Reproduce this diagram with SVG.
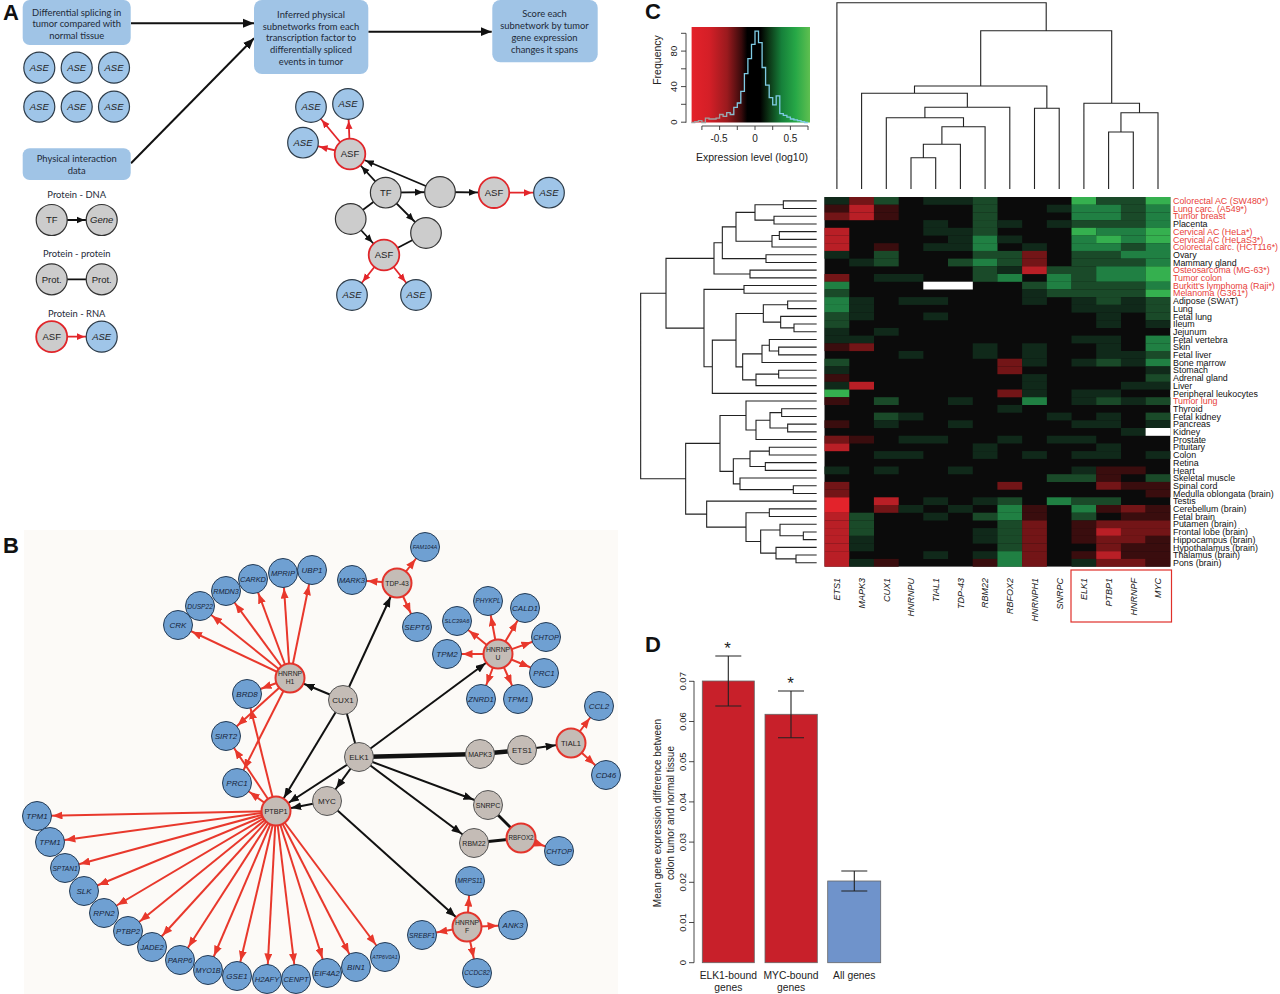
<svg xmlns="http://www.w3.org/2000/svg" width="1280" height="994" viewBox="0 0 1280 994">
<defs>
<style>
.pl{font-family:"Liberation Sans",Arial,sans-serif;font-weight:bold;font-size:22px;fill:#111}
.box{fill:#a0c4e6}
.bt{font-family:Lato,"Open Sans",sans-serif;font-size:9.4px;fill:#1e2a38;text-anchor:middle}
.aseA{fill:#9fc5e8;stroke:#2d3b48;stroke-width:1.2}
.grA{fill:#cccccc;stroke:#333;stroke-width:1.2}
.asfA{fill:#cccccc;stroke:#e0262a;stroke-width:1.8}
.ta{font-family:"Liberation Sans",Arial,sans-serif;font-size:9.5px;text-anchor:middle;fill:#222}
.it{font-style:italic}
.kA{stroke:#111;stroke-width:1.8;fill:none}
.rA{stroke:#e3262a;stroke-width:1.8;fill:none}
.nb{fill:#6fa0d2;stroke:#243b55;stroke-width:1}
.ng{fill:#c4bcb6;stroke:#555;stroke-width:1}
.nr{fill:#c4bcb6;stroke:#e3342c;stroke-width:2}
.tb{font-family:"Liberation Sans",Arial,sans-serif;font-style:italic;font-size:8px;text-anchor:middle;fill:#16243a}
.tg{font-family:"Liberation Sans",Arial,sans-serif;font-size:8px;text-anchor:middle;fill:#222}
.kB{stroke:#111;stroke-width:2;fill:none}
.rB{stroke:#e8382c;stroke-width:2;fill:none}
.a{fill:#e3232b}.b{fill:#b91f26}.c{fill:#731517}.d{fill:#3a0d0e}.e{fill:#10291a}.f{fill:#1a4a29}.g{fill:#208043}.h{fill:#35b04f}.w{fill:#ffffff}
.rl{font-family:"Liberation Sans",Arial,sans-serif;font-size:8.9px;fill:#111}
.rr{fill:#e8413a}
.cl{font-family:"Liberation Sans",Arial,sans-serif;font-style:italic;font-size:9px;fill:#222;text-anchor:end}
.ax{font-family:"Liberation Sans",Arial,sans-serif;font-size:9.5px;fill:#222;text-anchor:middle}
.dn{stroke:#222;stroke-width:1.1;fill:none}
</style>
<marker id="aBig" markerUnits="userSpaceOnUse" markerWidth="12" markerHeight="10" refX="11" refY="5" orient="auto"><path d="M0,0.5 L11,5 L0,9.5 Z" fill="#111"/></marker>
<marker id="aKA" markerUnits="userSpaceOnUse" markerWidth="26" markerHeight="8" refX="25" refY="4" orient="auto"><path d="M0,0.5 L8,4 L0,7.5 Z" fill="#111"/></marker>
<marker id="aRA" markerUnits="userSpaceOnUse" markerWidth="26" markerHeight="8" refX="25" refY="4" orient="auto"><path d="M0,0.5 L8,4 L0,7.5 Z" fill="#e3262a"/></marker>
<marker id="aKB" markerUnits="userSpaceOnUse" markerWidth="26" markerHeight="8" refX="25.5" refY="4" orient="auto"><path d="M0,0 L10,4 L0,8 Z" fill="#111"/></marker>
<marker id="aRB" markerUnits="userSpaceOnUse" markerWidth="26" markerHeight="8" refX="25.5" refY="4" orient="auto"><path d="M0,0 L10,4 L0,8 Z" fill="#e8382c"/></marker>
<linearGradient id="hg" x1="0" y1="0" x2="1" y2="0">
<stop offset="0" stop-color="#e4222a"/><stop offset="0.15" stop-color="#d41f27"/><stop offset="0.3" stop-color="#9a1a1e"/><stop offset="0.42" stop-color="#3a0b0c"/><stop offset="0.47" stop-color="#000"/><stop offset="0.58" stop-color="#000"/><stop offset="0.65" stop-color="#0c3315"/><stop offset="0.76" stop-color="#16803a"/><stop offset="0.88" stop-color="#27a847"/><stop offset="1" stop-color="#5fbf50"/>
</linearGradient>
<linearGradient id="hl" gradientUnits="userSpaceOnUse" x1="691" y1="0" x2="808" y2="0">
<stop offset="0" stop-color="#a0a0a0"/><stop offset="0.25" stop-color="#a0a0a0"/><stop offset="0.4" stop-color="#7fcbe4"/><stop offset="1" stop-color="#7fcbe4"/>
</linearGradient>
</defs>
<rect width="1280" height="994" fill="#ffffff"/>

<text class="pl" x="3" y="20">A</text>
<text class="pl" x="3" y="553">B</text>
<text class="pl" x="645" y="19">C</text>
<text class="pl" x="645" y="652">D</text>

<!-- ================= PANEL A ================= -->
<g id="A-connectors">
<line x1="131" y1="23.3" x2="254" y2="23.3" stroke="#111" stroke-width="2" marker-end="url(#aBig)"/>
<line x1="131" y1="163.3" x2="254" y2="38.3" stroke="#111" stroke-width="2" marker-end="url(#aBig)"/>
<line x1="368.3" y1="31.7" x2="491.7" y2="31.7" stroke="#111" stroke-width="2" marker-end="url(#aBig)"/>
<line class="kA" x1="51.7" y1="220" x2="101.7" y2="220" marker-end="url(#aKA)"/>
<line class="kA" x1="51.7" y1="279.3" x2="101.7" y2="279.3"/>
<line class="rA" x1="51.7" y1="336.7" x2="101.7" y2="336.7" marker-end="url(#aRA)"/>
<line class="rA" x1="350" y1="154" x2="311" y2="107" marker-end="url(#aRA)"/>
<line class="rA" x1="350" y1="154" x2="348" y2="104" marker-end="url(#aRA)"/>
<line class="rA" x1="350" y1="154" x2="303" y2="142.7" marker-end="url(#aRA)"/>
<line class="kA" x1="385.7" y1="192.7" x2="350" y2="154" marker-end="url(#aKA)"/>
<line class="kA" x1="440" y1="192" x2="350" y2="154" marker-end="url(#aKA)"/>
<line class="kA" x1="385.7" y1="192.7" x2="440" y2="192" marker-end="url(#aKA)"/>
<line class="kA" x1="440" y1="192" x2="494" y2="192.7" marker-end="url(#aKA)"/>
<line class="rA" x1="494" y1="192.7" x2="549" y2="192.7" marker-end="url(#aRA)"/>
<line class="kA" x1="385.7" y1="192.7" x2="350.7" y2="219"/>
<line class="kA" x1="350.7" y1="219" x2="384" y2="255" marker-end="url(#aKA)"/>
<line class="kA" x1="385.7" y1="192.7" x2="426" y2="233" marker-end="url(#aKA)"/>
<line class="kA" x1="426" y1="233" x2="384" y2="255"/>
<line class="rA" x1="384" y1="255" x2="352" y2="295" marker-end="url(#aRA)"/>
<line class="rA" x1="384" y1="255" x2="416" y2="295" marker-end="url(#aRA)"/>
</g>

<g id="box-splicing"><rect class="box" x="22.7" y="0" width="108" height="45" rx="7"/>
<text class="bt" x="76.7" y="15.5">Differential splicing in</text><text class="bt" x="76.7" y="27.3">tumor compared with</text><text class="bt" x="76.7" y="38.5">normal tissue</text></g>
<g id="box-physical"><rect class="box" x="22.7" y="148.3" width="108" height="31.7" rx="7"/>
<text class="bt" x="76.7" y="162.3">Physical interaction</text><text class="bt" x="76.7" y="174">data</text></g>
<g id="box-inferred"><rect class="box" x="254" y="0" width="114.3" height="74" rx="8"/>
<text class="bt" x="311" y="17.6">Inferred physical</text><text class="bt" x="311" y="29.6">subnetworks from each</text><text class="bt" x="311" y="41.3">transcription factor to</text><text class="bt" x="311" y="53.3">differentially spliced</text><text class="bt" x="311" y="65.3">events in tumor</text></g>
<g id="box-score"><rect class="box" x="492.3" y="0" width="105.4" height="62.3" rx="8"/>
<text class="bt" x="544.5" y="17.3">Score each</text><text class="bt" x="544.5" y="29">subnetwork by tumor</text><text class="bt" x="544.5" y="40.6">gene expression</text><text class="bt" x="544.5" y="52.6">changes it spans</text></g>

<g id="ase-grid">
<circle class="aseA" cx="39.3" cy="67.7" r="15.5"/><text class="ta it" x="39.3" y="71">ASE</text>
<circle class="aseA" cx="76.7" cy="67.7" r="15.5"/><text class="ta it" x="76.7" y="71">ASE</text>
<circle class="aseA" cx="114" cy="67.7" r="15.5"/><text class="ta it" x="114" y="71">ASE</text>
<circle class="aseA" cx="39.3" cy="106.7" r="15.5"/><text class="ta it" x="39.3" y="110">ASE</text>
<circle class="aseA" cx="76.7" cy="106.7" r="15.5"/><text class="ta it" x="76.7" y="110">ASE</text>
<circle class="aseA" cx="114" cy="106.7" r="15.5"/><text class="ta it" x="114" y="110">ASE</text>
</g>

<g id="legend">
<text class="bt" x="76.7" y="198.3">Protein - DNA</text>
<g id="leg-tf"><circle class="grA" cx="51.7" cy="220" r="15.5"/><text class="ta" x="51.7" y="223.3">TF</text></g>
<g id="leg-gene"><circle class="grA" cx="101.7" cy="220" r="15.5"/><text class="ta it" x="101.7" y="223.3">Gene</text></g>
<text class="bt" x="76.7" y="257.3">Protein - protein</text>
<g id="leg-prot1"><circle class="grA" cx="51.7" cy="279.3" r="15.5"/><text class="ta" x="51.7" y="282.6">Prot.</text></g>
<g id="leg-prot2"><circle class="grA" cx="101.7" cy="279.3" r="15.5"/><text class="ta" x="101.7" y="282.6">Prot.</text></g>
<text class="bt" x="76.7" y="316.6">Protein - RNA</text>
<g id="leg-asf"><circle class="asfA" cx="51.7" cy="336.7" r="15.5"/><text class="ta" x="51.7" y="340">ASF</text></g>
<g id="leg-ase"><circle class="aseA" cx="101.7" cy="336.7" r="15.5"/><text class="ta it" x="101.7" y="340">ASE</text></g>
</g>

<g id="A-network">
<g id="a-ase1"><circle class="aseA" cx="311" cy="107" r="15.3"/><text class="ta it" x="311" y="110.3">ASE</text></g>
<g id="a-ase2"><circle class="aseA" cx="348" cy="104" r="15.3"/><text class="ta it" x="348" y="107.3">ASE</text></g>
<g id="a-ase3"><circle class="aseA" cx="303" cy="142.7" r="15.3"/><text class="ta it" x="303" y="146">ASE</text></g>
<g id="a-asf1"><circle class="asfA" cx="350" cy="154" r="15.3"/><text class="ta" x="350" y="157.3">ASF</text></g>
<g id="a-tf"><circle class="grA" cx="385.7" cy="192.7" r="15.3"/><text class="ta" x="385.7" y="196">TF</text></g>
<g id="a-g2"><circle class="grA" cx="440" cy="192" r="15.3"/></g>
<g id="a-asf2"><circle class="asfA" cx="494" cy="192.7" r="15.3"/><text class="ta" x="494" y="196">ASF</text></g>
<g id="a-ase4"><circle class="aseA" cx="549" cy="192.7" r="15.3"/><text class="ta it" x="549" y="196">ASE</text></g>
<g id="a-g3"><circle class="grA" cx="350.7" cy="219" r="15.3"/></g>
<g id="a-g4"><circle class="grA" cx="426" cy="233" r="15.3"/></g>
<g id="a-asf3"><circle class="asfA" cx="384" cy="255" r="15.3"/><text class="ta" x="384" y="258.3">ASF</text></g>
<g id="a-ase5"><circle class="aseA" cx="352" cy="295" r="15.3"/><text class="ta it" x="352" y="298.3">ASE</text></g>
<g id="a-ase6"><circle class="aseA" cx="416" cy="295" r="15.3"/><text class="ta it" x="416" y="298.3">ASE</text></g>
</g>

<!-- ================= PANEL B ================= -->
<rect x="24" y="530" width="594" height="464" fill="#fcfaf7"/>
<g id="B-connectors">
<line class="kB" x1="343" y1="700" x2="290" y2="678" marker-end="url(#aKB)"/>
<line class="kB" x1="343" y1="700" x2="397" y2="583" marker-end="url(#aKB)"/>
<line class="kB" x1="343" y1="700" x2="276" y2="811" marker-end="url(#aKB)"/>
<line class="kB" x1="343" y1="700" x2="359" y2="757"/>
<line class="kB" x1="359" y1="757" x2="498" y2="654" marker-end="url(#aKB)"/>
<line class="kB" x1="359" y1="757" x2="276" y2="811" marker-end="url(#aKB)"/>
<line class="kB" x1="359" y1="757" x2="327" y2="801" marker-end="url(#aKB)"/>
<line class="kB" x1="359" y1="757" x2="488" y2="805" marker-end="url(#aKB)"/>
<line class="kB" x1="359" y1="757" x2="474" y2="843" marker-end="url(#aKB)"/>
<line class="kB" x1="327" y1="801" x2="276" y2="811" marker-end="url(#aKB)"/>
<line class="kB" x1="327" y1="801" x2="467" y2="927" marker-end="url(#aKB)"/>
<line class="kB" x1="522" y1="750" x2="571" y2="743" marker-end="url(#aKB)"/>
<line x1="359" y1="757" x2="480" y2="754" stroke="#111" stroke-width="4.5"/>
<line x1="480" y1="754" x2="522" y2="750" stroke="#111" stroke-width="4.5"/>
<line x1="488" y1="805" x2="521" y2="838" stroke="#111" stroke-width="3"/>
<line x1="474" y1="843" x2="521" y2="838" stroke="#111" stroke-width="3"/>
<g class="rB">
<line x1="290" y1="678" x2="312" y2="570" marker-end="url(#aRB)"/>
<line x1="290" y1="678" x2="283" y2="573" marker-end="url(#aRB)"/>
<line x1="290" y1="678" x2="253" y2="579" marker-end="url(#aRB)"/>
<line x1="290" y1="678" x2="226" y2="591" marker-end="url(#aRB)"/>
<line x1="290" y1="678" x2="200" y2="606" marker-end="url(#aRB)"/>
<line x1="290" y1="678" x2="178" y2="625" marker-end="url(#aRB)"/>
<line x1="290" y1="678" x2="247" y2="694" marker-end="url(#aRB)"/>
<line x1="290" y1="678" x2="226" y2="736" marker-end="url(#aRB)"/>
<line x1="290" y1="678" x2="237" y2="783" marker-end="url(#aRB)"/>
<line x1="276" y1="811" x2="247" y2="694" marker-end="url(#aRB)"/>
<line x1="276" y1="811" x2="226" y2="736" marker-end="url(#aRB)"/>
<line x1="276" y1="811" x2="237" y2="783" marker-end="url(#aRB)"/>
<line x1="276" y1="811" x2="37" y2="816" marker-end="url(#aRB)"/>
<line x1="276" y1="811" x2="50" y2="842" marker-end="url(#aRB)"/>
<line x1="276" y1="811" x2="65" y2="868" marker-end="url(#aRB)"/>
<line x1="276" y1="811" x2="84" y2="891" marker-end="url(#aRB)"/>
<line x1="276" y1="811" x2="104" y2="913" marker-end="url(#aRB)"/>
<line x1="276" y1="811" x2="128" y2="931" marker-end="url(#aRB)"/>
<line x1="276" y1="811" x2="152" y2="947" marker-end="url(#aRB)"/>
<line x1="276" y1="811" x2="180" y2="960" marker-end="url(#aRB)"/>
<line x1="276" y1="811" x2="208" y2="970" marker-end="url(#aRB)"/>
<line x1="276" y1="811" x2="237" y2="976" marker-end="url(#aRB)"/>
<line x1="276" y1="811" x2="267" y2="979" marker-end="url(#aRB)"/>
<line x1="276" y1="811" x2="296" y2="979" marker-end="url(#aRB)"/>
<line x1="276" y1="811" x2="327" y2="973" marker-end="url(#aRB)"/>
<line x1="276" y1="811" x2="356" y2="967" marker-end="url(#aRB)"/>
<line x1="276" y1="811" x2="385" y2="957" marker-end="url(#aRB)"/>
<line x1="397" y1="583" x2="352" y2="580" marker-end="url(#aRB)"/>
<line x1="397" y1="583" x2="425" y2="547" marker-end="url(#aRB)"/>
<line x1="397" y1="583" x2="417" y2="627" marker-end="url(#aRB)"/>
<line x1="498" y1="654" x2="457" y2="621" marker-end="url(#aRB)"/>
<line x1="498" y1="654" x2="488" y2="601" marker-end="url(#aRB)"/>
<line x1="498" y1="654" x2="525" y2="608" marker-end="url(#aRB)"/>
<line x1="498" y1="654" x2="546" y2="637" marker-end="url(#aRB)"/>
<line x1="498" y1="654" x2="544" y2="673" marker-end="url(#aRB)"/>
<line x1="498" y1="654" x2="518" y2="699" marker-end="url(#aRB)"/>
<line x1="498" y1="654" x2="481" y2="699" marker-end="url(#aRB)"/>
<line x1="498" y1="654" x2="447" y2="654" marker-end="url(#aRB)"/>
<line x1="571" y1="743" x2="599" y2="706" marker-end="url(#aRB)"/>
<line x1="571" y1="743" x2="606" y2="775" marker-end="url(#aRB)"/>
<line x1="521" y1="838" x2="559" y2="851" marker-end="url(#aRB)"/>
<line x1="467" y1="927" x2="470" y2="881" marker-end="url(#aRB)"/>
<line x1="467" y1="927" x2="513" y2="925" marker-end="url(#aRB)"/>
<line x1="467" y1="927" x2="477" y2="973" marker-end="url(#aRB)"/>
<line x1="467" y1="927" x2="422" y2="935" marker-end="url(#aRB)"/>
</g>
</g>

<g id="B-nodes">
<g id="n-UBP1"><circle class="nb" cx="312" cy="570" r="14.5"/><text class="tb" x="312" y="572.8">UBP1</text></g>
<g id="n-MPRIP"><circle class="nb" cx="283" cy="573" r="14.5"/><text class="tb" x="283" y="575.8" style="font-size:7.6px">MPRIP</text></g>
<g id="n-CARKD"><circle class="nb" cx="253" cy="579" r="14.5"/><text class="tb" x="253" y="581.7" style="font-size:7.4px">CARKD</text></g>
<g id="n-RMDN3"><circle class="nb" cx="226" cy="591" r="14.5"/><text class="tb" x="226" y="593.6" style="font-size:7.2px">RMDN3</text></g>
<g id="n-DUSP22"><circle class="nb" cx="200" cy="606" r="14.5"/><text class="tb" x="200" y="608.5" style="font-size:6.6px">DUSP22</text></g>
<g id="n-CRK"><circle class="nb" cx="178" cy="625" r="14.5"/><text class="tb" x="178" y="627.8">CRK</text></g>
<g id="n-BRD8"><circle class="nb" cx="247" cy="694" r="14.5"/><text class="tb" x="247" y="696.8">BRD8</text></g>
<g id="n-SIRT2"><circle class="nb" cx="226" cy="736" r="14.5"/><text class="tb" x="226" y="738.8">SIRT2</text></g>
<g id="n-PRC1a"><circle class="nb" cx="237" cy="783" r="14.5"/><text class="tb" x="237" y="785.8">PRC1</text></g>
<g id="n-FAM104A"><circle class="nb" cx="425" cy="547" r="14.5"/><text class="tb" x="425" y="549" style="font-size:5.6px">FAM104A</text></g>
<g id="n-MARK3"><circle class="nb" cx="352" cy="580" r="14.5"/><text class="tb" x="352" y="582.8" style="font-size:7.6px">MARK3</text></g>
<g id="n-SEPT6"><circle class="nb" cx="417" cy="627" r="14.5"/><text class="tb" x="417" y="629.8">SEPT6</text></g>
<g id="n-PHYKPL"><circle class="nb" cx="488" cy="601" r="14.5"/><text class="tb" x="488" y="603.4" style="font-size:6.4px">PHYKPL</text></g>
<g id="n-CALD1"><circle class="nb" cx="525" cy="608" r="14.5"/><text class="tb" x="525" y="610.8">CALD1</text></g>
<g id="n-SLC39A6"><circle class="nb" cx="457" cy="621" r="14.5"/><text class="tb" x="457" y="623.2" style="font-size:5.8px">SLC39A6</text></g>
<g id="n-CHTOPa"><circle class="nb" cx="546" cy="637" r="14.5"/><text class="tb" x="546" y="639.7" style="font-size:7.4px">CHTOP</text></g>
<g id="n-TPM2"><circle class="nb" cx="447" cy="654" r="14.5"/><text class="tb" x="447" y="656.8">TPM2</text></g>
<g id="n-PRC1b"><circle class="nb" cx="544" cy="673" r="14.5"/><text class="tb" x="544" y="675.8">PRC1</text></g>
<g id="n-ZNRD1"><circle class="nb" cx="481" cy="699" r="14.5"/><text class="tb" x="481" y="701.8" style="font-size:7.6px">ZNRD1</text></g>
<g id="n-TPM1c"><circle class="nb" cx="518" cy="699" r="14.5"/><text class="tb" x="518" y="701.8">TPM1</text></g>
<g id="n-CCL2"><circle class="nb" cx="599" cy="706" r="14.5"/><text class="tb" x="599" y="708.8">CCL2</text></g>
<g id="n-CD46"><circle class="nb" cx="606" cy="775" r="14.5"/><text class="tb" x="606" y="777.8">CD46</text></g>
<g id="n-TPM1a"><circle class="nb" cx="37" cy="816" r="14.5"/><text class="tb" x="37" y="818.8">TPM1</text></g>
<g id="n-TPM1b"><circle class="nb" cx="50" cy="842" r="14.5"/><text class="tb" x="50" y="844.8">TPM1</text></g>
<g id="n-SPTAN1"><circle class="nb" cx="65" cy="868" r="14.5"/><text class="tb" x="65" y="870.5" style="font-size:6.6px">SPTAN1</text></g>
<g id="n-SLK"><circle class="nb" cx="84" cy="891" r="14.5"/><text class="tb" x="84" y="893.8">SLK</text></g>
<g id="n-RPN2"><circle class="nb" cx="104" cy="913" r="14.5"/><text class="tb" x="104" y="915.8">RPN2</text></g>
<g id="n-PTBP2"><circle class="nb" cx="128" cy="931" r="14.5"/><text class="tb" x="128" y="933.8" style="font-size:7.6px">PTBP2</text></g>
<g id="n-JADE2"><circle class="nb" cx="152" cy="947" r="14.5"/><text class="tb" x="152" y="949.8" style="font-size:7.6px">JADE2</text></g>
<g id="n-PARP6"><circle class="nb" cx="180" cy="960" r="14.5"/><text class="tb" x="180" y="962.8" style="font-size:7.6px">PARP6</text></g>
<g id="n-MYO1B"><circle class="nb" cx="208" cy="970" r="14.5"/><text class="tb" x="208" y="972.7" style="font-size:7.2px">MYO1B</text></g>
<g id="n-GSE1"><circle class="nb" cx="237" cy="976" r="14.5"/><text class="tb" x="237" y="978.8">GSE1</text></g>
<g id="n-H2AFY"><circle class="nb" cx="267" cy="979" r="14.5"/><text class="tb" x="267" y="981.8" style="font-size:7.6px">H2AFY</text></g>
<g id="n-CENPT"><circle class="nb" cx="296" cy="979" r="14.5"/><text class="tb" x="296" y="981.7" style="font-size:7.4px">CENPT</text></g>
<g id="n-EIF4A2"><circle class="nb" cx="327" cy="973" r="14.5"/><text class="tb" x="327" y="975.8" style="font-size:7.6px">EIF4A2</text></g>
<g id="n-BIN1"><circle class="nb" cx="356" cy="967" r="14.5"/><text class="tb" x="356" y="969.8">BIN1</text></g>
<g id="n-ATP6V0A1"><circle class="nb" cx="385" cy="957" r="14.5"/><text class="tb" x="385" y="959" style="font-size:5.2px">ATP6V0A1</text></g>
<g id="n-CHTOPb"><circle class="nb" cx="559" cy="851" r="14.5"/><text class="tb" x="559" y="853.7" style="font-size:7.4px">CHTOP</text></g>
<g id="n-MRPS11"><circle class="nb" cx="470" cy="881" r="14.5"/><text class="tb" x="470" y="883.4" style="font-size:6.4px">MRPS11</text></g>
<g id="n-ANK3"><circle class="nb" cx="513" cy="925" r="14.5"/><text class="tb" x="513" y="927.8">ANK3</text></g>
<g id="n-SREBF1"><circle class="nb" cx="422" cy="935" r="14.5"/><text class="tb" x="422" y="937.5" style="font-size:6.7px">SREBF1</text></g>
<g id="n-CCDC82"><circle class="nb" cx="477" cy="973" r="14.5"/><text class="tb" x="477" y="975.4" style="font-size:6.4px">CCDC82</text></g>
<g id="n-HNRNPH1"><circle class="nr" cx="290" cy="678" r="14.5"/><text class="tg" x="290" y="676" style="font-size:6.8px">HNRNP</text><text class="tg" x="290" y="684" style="font-size:6.8px">H1</text></g>
<g id="n-TDP43"><circle class="nr" cx="397" cy="583" r="14.5"/><text class="tg" x="397" y="585.5" style="font-size:6.8px">TDP-43</text></g>
<g id="n-HNRNPU"><circle class="nr" cx="498" cy="654" r="14.5"/><text class="tg" x="498" y="652" style="font-size:6.8px">HNRNP</text><text class="tg" x="498" y="660" style="font-size:6.8px">U</text></g>
<g id="n-TIAL1"><circle class="nr" cx="571" cy="743" r="14.5"/><text class="tg" x="571" y="745.7" style="font-size:7.5px">TIAL1</text></g>
<g id="n-PTBP1"><circle class="nr" cx="276" cy="811" r="14.5"/><text class="tg" x="276" y="813.7" style="font-size:7.3px">PTBP1</text></g>
<g id="n-RBFOX2"><circle class="nr" cx="521" cy="838" r="14.5"/><text class="tg" x="521" y="840.3" style="font-size:6.3px">RBFOX2</text></g>
<g id="n-HNRNPF"><circle class="nr" cx="467" cy="927" r="14.5"/><text class="tg" x="467" y="925" style="font-size:6.8px">HNRNP</text><text class="tg" x="467" y="933" style="font-size:6.8px">F</text></g>
<g id="n-CUX1"><circle class="ng" cx="343" cy="700" r="14.5"/><text class="tg" x="343" y="702.8">CUX1</text></g>
<g id="n-ELK1"><circle class="ng" cx="359" cy="757" r="14.5"/><text class="tg" x="359" y="759.8">ELK1</text></g>
<g id="n-MAPK3"><circle class="ng" cx="480" cy="754" r="14.5"/><text class="tg" x="480" y="756.5" style="font-size:7px">MAPK3</text></g>
<g id="n-ETS1"><circle class="ng" cx="522" cy="750" r="14.5"/><text class="tg" x="522" y="752.8">ETS1</text></g>
<g id="n-MYC"><circle class="ng" cx="327" cy="801" r="14.5"/><text class="tg" x="327" y="803.8">MYC</text></g>
<g id="n-SNRPC"><circle class="ng" cx="488" cy="805" r="14.5"/><text class="tg" x="488" y="807.5" style="font-size:7px">SNRPC</text></g>
<g id="n-RBM22"><circle class="ng" cx="474" cy="843" r="14.5"/><text class="tg" x="474" y="845.5" style="font-size:7px">RBM22</text></g>
</g>

<!-- ================= PANEL C ================= -->
<g id="histogram">
<rect x="691.6" y="27" width="118.4" height="95.5" fill="url(#hg)"/>
<path d="M691.3,122.5 H694.8 V121.6 H698.4 V120.7 H701.9 V122.5 H705.4 V118.1 H709 V119 H716.1 V118.1 H719.6 V114.5 H723.1 V116.3 H726.7 V112.7 H730.2 V114.5 H733.8 V107.4 H737.3 V103 H740.8 V91.4 H744.4 V73.7 H747.9 V58.6 H751.5 V44.4 H755 V31.1 H758.5 V42.6 H762.1 V67.5 H765.6 V85.2 H769.2 V97.6 H772.7 V104.8 H776.2 V95.9 H779.8 V113.6 H783.3 V115.4 H786.9 V117.2 H790.4 V119 H793.9 V119.8 H797.5 V120.7 H801 V121.6 H804.6 V122.5 H808" fill="none" stroke="url(#hl)" stroke-width="1.3"/>
<path d="M686,33.3 V122.7 M681,33.3 H686 M681,51.1 H686 M681,68.8 H686 M681,86.6 H686 M681,104.3 H686 M681,122.2 H686" stroke="#333" stroke-width="0.9" fill="none"/>
<text class="ax" transform="translate(677,122.2) rotate(-90)">0</text>
<text class="ax" transform="translate(677,86.6) rotate(-90)">40</text>
<text class="ax" transform="translate(677,51.1) rotate(-90)">80</text>
<text class="ax" transform="translate(661,60) rotate(-90)" style="font-size:10.5px">Frequency</text>
<path d="M701.9,126 H808 M701.9,126 V130 M719.6,126 V130 M737.3,126 V130 M755,126 V130 M772.7,126 V130 M790.4,126 V130 M808,126 V130" stroke="#333" stroke-width="0.9" fill="none"/>
<text class="ax" x="719" y="142" style="font-size:10px">-0.5</text>
<text class="ax" x="755" y="142" style="font-size:10px">0</text>
<text class="ax" x="790.4" y="142" style="font-size:10px">0.5</text>
<text class="ax" x="752" y="161" style="font-size:10.5px">Expression level (log10)</text>
</g>

<g id="top-dendrogram" class="dn">
<path d="M836.9,189 V2.7 H1046.2 V30.7 M980.7,86 V30.7 H1111.7 V103.3 M914.5,93.3 V86 H1046.85 V108.3 M861.6,189 V93.3 H967.35 V107.3 M924.9,117.7 V107.3 H1009.8 V189 M886.3,189 V117.7 H963.5 V126.7 M941.9,144.3 V126.7 H985.1 V189 M923.35,157.7 V144.3 H960.4 V189 M911,189 V157.7 H935.7 V189 M1034.5,189 V108.3 H1059.2 V189 M1083.9,189 V103.3 H1139.5 V112.7 M1120.95,132 V112.7 H1158 V189 M1108.6,189 V132 H1133.3 V189"/>
</g>

<g id="left-dendrogram" transform="translate(640,190) scale(0.33333)">
<path fill="none" stroke="#222" stroke-width="3.3" d="M530,32.55 H430 V55.65 H530 M530,78.75 H402 V101.85 H530 M430,44.1 H345 V90.3 H402 M530,124.95 H418 V148.05 H530 M418,136.5 H396 V171.15 H530 M345,67.2 H288 V153.8 H396 M530,194.25 H378 V217.35 H530 M288,110.5 H247 V205.8 H378 M530,240.45 H330 V263.55 H530 M247,158.15 H222 V252 H330 M530,286.65 H312 V309.75 H530 M530,332.85 H443 V355.95 H530 M530,402.15 H462 V425.25 H530 M530,379.05 H422 V413.7 H462 M443,344.4 H370 V396.4 H422 M530,471.45 H416 V494.55 H530 M530,448.35 H388 V483 H416 M388,465.7 H366 V517.65 H530 M530,540.75 H416 V563.85 H530 M416,552.3 H348 V586.95 H530 M366,491.7 H308 V569.6 H348 M370,370.4 H288 V530.65 H308 M288,450.5 H217 V610.05 H530 M312,298.2 H192 V530.3 H217 M222,205.1 H78 V414.25 H192 M530,656.25 H425 V679.35 H530 M530,702.45 H443 V725.55 H530 M425,667.8 H390 V714 H443 M390,690.9 H348 V748.65 H530 M530,633.15 H318 V719.8 H348 M530,771.75 H388 V794.85 H530 M530,817.95 H376 V841.05 H530 M388,783.3 H330 V829.5 H376 M530,887.25 H460 V910.35 H530 M530,864.15 H300 V898.8 H460 M330,806.4 H280 V881.5 H300 M318,676.5 H240 V844 H280 M530,956.55 H388 V979.65 H530 M530,1025.85 H490 V1048.95 H530 M530,1002.75 H420 V1037.4 H490 M530,1095.15 H468 V1118.25 H530 M530,1072.05 H408 V1106.7 H468 M420,1020.1 H362 V1089.4 H408 M388,968.1 H318 V1054.7 H362 M530,933.45 H200 V1011.4 H318 M240,760.2 H137 V972.4 H200 M78,309.7 H2 V866.3 H137"/>
</g>

<g id="heatmap" transform="translate(824.5,197)">
<rect x="0" y="0" width="345.8" height="369.6" fill="#0b0b0b"/>
<rect class="e" x="0" y="0" width="24.8" height="7.8"/><rect class="c" x="24.7" y="0" width="24.8" height="7.8"/><rect class="f" x="49.4" y="0" width="24.8" height="7.8"/><rect class="e" x="98.8" y="0" width="49.5" height="7.8"/><rect class="f" x="148.2" y="0" width="24.8" height="7.8"/><rect class="h" x="247" y="0" width="24.8" height="7.8"/><rect class="f" x="271.7" y="0" width="49.5" height="7.8"/><rect class="h" x="321.1" y="0" width="24.8" height="7.8"/>
<rect class="d" x="0" y="7.7" width="24.8" height="7.8"/><rect class="b" x="24.7" y="7.7" width="24.8" height="7.8"/><rect class="d" x="49.4" y="7.7" width="24.8" height="7.8"/><rect class="f" x="148.2" y="7.7" width="24.8" height="7.8"/><rect class="e" x="222.3" y="7.7" width="24.8" height="7.8"/><rect class="g" x="247" y="7.7" width="49.5" height="7.8"/><rect class="f" x="296.4" y="7.7" width="24.8" height="7.8"/><rect class="g" x="321.1" y="7.7" width="24.8" height="7.8"/>
<rect class="c" x="0" y="15.4" width="24.8" height="7.8"/><rect class="b" x="24.7" y="15.4" width="24.8" height="7.8"/><rect class="d" x="49.4" y="15.4" width="24.8" height="7.8"/><rect class="f" x="148.2" y="15.4" width="24.8" height="7.8"/><rect class="g" x="247" y="15.4" width="49.5" height="7.8"/><rect class="f" x="296.4" y="15.4" width="24.8" height="7.8"/><rect class="g" x="321.1" y="15.4" width="24.8" height="7.8"/>
<rect class="e" x="98.8" y="23.1" width="24.8" height="7.8"/><rect class="f" x="148.2" y="23.1" width="24.8" height="7.8"/><rect class="e" x="172.9" y="23.1" width="24.8" height="7.8"/><rect class="e" x="222.3" y="23.1" width="24.8" height="7.8"/><rect class="f" x="247" y="23.1" width="74.2" height="7.8"/><rect class="g" x="321.1" y="23.1" width="24.8" height="7.8"/>
<rect class="b" x="0" y="30.8" width="24.8" height="7.8"/><rect class="e" x="98.8" y="30.8" width="49.5" height="7.8"/><rect class="f" x="148.2" y="30.8" width="24.8" height="7.8"/><rect class="h" x="247" y="30.8" width="24.8" height="7.8"/><rect class="g" x="271.7" y="30.8" width="49.5" height="7.8"/><rect class="h" x="321.1" y="30.8" width="24.8" height="7.8"/>
<rect class="b" x="0" y="38.5" width="24.8" height="7.8"/><rect class="e" x="123.5" y="38.5" width="24.8" height="7.8"/><rect class="g" x="148.2" y="38.5" width="24.8" height="7.8"/><rect class="e" x="172.9" y="38.5" width="24.8" height="7.8"/><rect class="g" x="247" y="38.5" width="24.8" height="7.8"/><rect class="h" x="271.7" y="38.5" width="24.8" height="7.8"/><rect class="g" x="296.4" y="38.5" width="24.8" height="7.8"/><rect class="h" x="321.1" y="38.5" width="24.8" height="7.8"/>
<rect class="b" x="0" y="46.2" width="24.8" height="7.8"/><rect class="d" x="49.4" y="46.2" width="24.8" height="7.8"/><rect class="e" x="98.8" y="46.2" width="49.5" height="7.8"/><rect class="g" x="148.2" y="46.2" width="24.8" height="7.8"/><rect class="e" x="197.6" y="46.2" width="24.8" height="7.8"/><rect class="g" x="247" y="46.2" width="49.5" height="7.8"/><rect class="f" x="296.4" y="46.2" width="24.8" height="7.8"/><rect class="g" x="321.1" y="46.2" width="24.8" height="7.8"/>
<rect class="e" x="0" y="53.9" width="24.8" height="7.8"/><rect class="f" x="49.4" y="53.9" width="24.8" height="7.8"/><rect class="f" x="148.2" y="53.9" width="49.5" height="7.8"/><rect class="c" x="197.6" y="53.9" width="24.8" height="7.8"/><rect class="f" x="247" y="53.9" width="49.5" height="7.8"/><rect class="g" x="296.4" y="53.9" width="49.5" height="7.8"/>
<rect class="e" x="24.7" y="61.6" width="24.8" height="7.8"/><rect class="f" x="49.4" y="61.6" width="24.8" height="7.8"/><rect class="f" x="123.5" y="61.6" width="24.8" height="7.8"/><rect class="g" x="148.2" y="61.6" width="24.8" height="7.8"/><rect class="f" x="172.9" y="61.6" width="24.8" height="7.8"/><rect class="c" x="197.6" y="61.6" width="24.8" height="7.8"/><rect class="f" x="247" y="61.6" width="74.2" height="7.8"/><rect class="g" x="321.1" y="61.6" width="24.8" height="7.8"/>
<rect class="f" x="148.2" y="69.3" width="24.8" height="7.8"/><rect class="e" x="172.9" y="69.3" width="24.8" height="7.8"/><rect class="b" x="197.6" y="69.3" width="24.8" height="7.8"/><rect class="f" x="222.3" y="69.3" width="49.5" height="7.8"/><rect class="g" x="271.7" y="69.3" width="49.5" height="7.8"/><rect class="h" x="321.1" y="69.3" width="24.8" height="7.8"/>
<rect class="c" x="0" y="77" width="24.8" height="7.8"/><rect class="e" x="49.4" y="77" width="49.5" height="7.8"/><rect class="f" x="148.2" y="77" width="24.8" height="7.8"/><rect class="g" x="172.9" y="77" width="24.8" height="7.8"/><rect class="g" x="222.3" y="77" width="24.8" height="7.8"/><rect class="f" x="247" y="77" width="24.8" height="7.8"/><rect class="g" x="271.7" y="77" width="49.5" height="7.8"/><rect class="h" x="321.1" y="77" width="24.8" height="7.8"/>
<rect class="g" x="0" y="84.7" width="24.8" height="7.8"/><rect class="w" x="98.8" y="84.7" width="49.5" height="7.8"/><rect class="f" x="197.6" y="84.7" width="24.8" height="7.8"/><rect class="g" x="222.3" y="84.7" width="24.8" height="7.8"/><rect class="f" x="247" y="84.7" width="74.2" height="7.8"/><rect class="g" x="321.1" y="84.7" width="24.8" height="7.8"/>
<rect class="f" x="0" y="92.4" width="24.8" height="7.8"/><rect class="e" x="197.6" y="92.4" width="24.8" height="7.8"/><rect class="f" x="222.3" y="92.4" width="98.9" height="7.8"/><rect class="h" x="321.1" y="92.4" width="24.8" height="7.8"/>
<rect class="g" x="0" y="100.1" width="24.8" height="7.8"/><rect class="e" x="24.7" y="100.1" width="24.8" height="7.8"/><rect class="e" x="74.1" y="100.1" width="49.5" height="7.8"/><rect class="e" x="197.6" y="100.1" width="24.8" height="7.8"/><rect class="e" x="247" y="100.1" width="24.8" height="7.8"/><rect class="f" x="271.7" y="100.1" width="24.8" height="7.8"/><rect class="e" x="296.4" y="100.1" width="24.8" height="7.8"/><rect class="f" x="321.1" y="100.1" width="24.8" height="7.8"/>
<rect class="g" x="0" y="107.8" width="24.8" height="7.8"/><rect class="e" x="24.7" y="107.8" width="24.8" height="7.8"/><rect class="e" x="247" y="107.8" width="74.2" height="7.8"/><rect class="f" x="321.1" y="107.8" width="24.8" height="7.8"/>
<rect class="f" x="0" y="115.5" width="24.8" height="7.8"/><rect class="e" x="24.7" y="115.5" width="24.8" height="7.8"/><rect class="e" x="98.8" y="115.5" width="24.8" height="7.8"/><rect class="e" x="271.7" y="115.5" width="24.8" height="7.8"/><rect class="f" x="321.1" y="115.5" width="24.8" height="7.8"/>
<rect class="f" x="0" y="123.2" width="24.8" height="7.8"/><rect class="e" x="271.7" y="123.2" width="24.8" height="7.8"/><rect class="e" x="321.1" y="123.2" width="24.8" height="7.8"/>
<rect class="e" x="0" y="130.9" width="24.8" height="7.8"/><rect class="e" x="49.4" y="130.9" width="24.8" height="7.8"/>
<rect class="e" x="0" y="138.6" width="49.5" height="7.8"/><rect class="e" x="247" y="138.6" width="49.5" height="7.8"/><rect class="g" x="321.1" y="138.6" width="24.8" height="7.8"/>
<rect class="d" x="0" y="146.3" width="24.8" height="7.8"/><rect class="c" x="24.7" y="146.3" width="24.8" height="7.8"/><rect class="e" x="148.2" y="146.3" width="24.8" height="7.8"/><rect class="e" x="197.6" y="146.3" width="24.8" height="7.8"/><rect class="e" x="271.7" y="146.3" width="24.8" height="7.8"/><rect class="g" x="321.1" y="146.3" width="24.8" height="7.8"/>
<rect class="e" x="74.1" y="154" width="24.8" height="7.8"/><rect class="e" x="148.2" y="154" width="24.8" height="7.8"/><rect class="e" x="197.6" y="154" width="24.8" height="7.8"/><rect class="e" x="271.7" y="154" width="49.5" height="7.8"/><rect class="f" x="321.1" y="154" width="24.8" height="7.8"/>
<rect class="f" x="0" y="161.7" width="24.8" height="7.8"/><rect class="c" x="172.9" y="161.7" width="24.8" height="7.8"/><rect class="e" x="197.6" y="161.7" width="24.8" height="7.8"/><rect class="e" x="247" y="161.7" width="24.8" height="7.8"/><rect class="f" x="271.7" y="161.7" width="24.8" height="7.8"/><rect class="e" x="296.4" y="161.7" width="24.8" height="7.8"/><rect class="g" x="321.1" y="161.7" width="24.8" height="7.8"/>
<rect class="e" x="0" y="169.4" width="24.8" height="7.8"/><rect class="c" x="172.9" y="169.4" width="24.8" height="7.8"/><rect class="e" x="321.1" y="169.4" width="24.8" height="7.8"/>
<rect class="d" x="0" y="177.1" width="24.8" height="7.8"/><rect class="e" x="197.6" y="177.1" width="24.8" height="7.8"/><rect class="f" x="321.1" y="177.1" width="24.8" height="7.8"/>
<rect class="e" x="0" y="184.8" width="24.8" height="7.8"/><rect class="b" x="24.7" y="184.8" width="24.8" height="7.8"/><rect class="e" x="197.6" y="184.8" width="24.8" height="7.8"/><rect class="e" x="296.4" y="184.8" width="49.5" height="7.8"/>
<rect class="h" x="0" y="192.5" width="24.8" height="7.8"/><rect class="c" x="172.9" y="192.5" width="24.8" height="7.8"/><rect class="e" x="197.6" y="192.5" width="24.8" height="7.8"/><rect class="e" x="247" y="192.5" width="49.5" height="7.8"/>
<rect class="d" x="0" y="200.2" width="24.8" height="7.8"/><rect class="f" x="49.4" y="200.2" width="24.8" height="7.8"/><rect class="e" x="123.5" y="200.2" width="24.8" height="7.8"/><rect class="g" x="197.6" y="200.2" width="24.8" height="7.8"/><rect class="e" x="247" y="200.2" width="24.8" height="7.8"/><rect class="f" x="271.7" y="200.2" width="24.8" height="7.8"/><rect class="e" x="296.4" y="200.2" width="24.8" height="7.8"/><rect class="f" x="321.1" y="200.2" width="24.8" height="7.8"/>
<rect class="e" x="172.9" y="207.9" width="24.8" height="7.8"/>
<rect class="f" x="49.4" y="215.6" width="24.8" height="7.8"/><rect class="e" x="74.1" y="215.6" width="24.8" height="7.8"/><rect class="e" x="222.3" y="215.6" width="24.8" height="7.8"/><rect class="e" x="271.7" y="215.6" width="24.8" height="7.8"/><rect class="f" x="321.1" y="215.6" width="24.8" height="7.8"/>
<rect class="d" x="0" y="223.3" width="24.8" height="7.8"/><rect class="e" x="49.4" y="223.3" width="24.8" height="7.8"/><rect class="e" x="123.5" y="223.3" width="24.8" height="7.8"/><rect class="e" x="247" y="223.3" width="49.5" height="7.8"/><rect class="e" x="321.1" y="223.3" width="24.8" height="7.8"/>
<rect class="e" x="296.4" y="231" width="24.8" height="7.8"/><rect class="w" x="321.1" y="231" width="24.8" height="7.8"/>
<rect class="c" x="0" y="238.7" width="24.8" height="7.8"/><rect class="d" x="24.7" y="238.7" width="24.8" height="7.8"/><rect class="e" x="74.1" y="238.7" width="49.5" height="7.8"/><rect class="e" x="172.9" y="238.7" width="24.8" height="7.8"/><rect class="e" x="222.3" y="238.7" width="49.5" height="7.8"/>
<rect class="b" x="0" y="246.4" width="24.8" height="7.8"/><rect class="e" x="148.2" y="246.4" width="24.8" height="7.8"/><rect class="e" x="271.7" y="246.4" width="24.8" height="7.8"/>
<rect class="e" x="49.4" y="254.1" width="49.5" height="7.8"/><rect class="e" x="148.2" y="254.1" width="24.8" height="7.8"/><rect class="e" x="197.6" y="254.1" width="24.8" height="7.8"/><rect class="e" x="247" y="254.1" width="49.5" height="7.8"/><rect class="e" x="321.1" y="254.1" width="24.8" height="7.8"/>
<rect class="e" x="0" y="269.5" width="24.8" height="7.8"/><rect class="e" x="49.4" y="269.5" width="24.8" height="7.8"/><rect class="e" x="123.5" y="269.5" width="24.8" height="7.8"/><rect class="e" x="247" y="269.5" width="24.8" height="7.8"/><rect class="d" x="271.7" y="269.5" width="49.5" height="7.8"/>
<rect class="f" x="222.3" y="277.2" width="49.5" height="7.8"/><rect class="d" x="271.7" y="277.2" width="24.8" height="7.8"/><rect class="f" x="321.1" y="277.2" width="24.8" height="7.8"/>
<rect class="c" x="0" y="284.9" width="24.8" height="7.8"/><rect class="c" x="172.9" y="284.9" width="24.8" height="7.8"/><rect class="c" x="271.7" y="284.9" width="24.8" height="7.8"/><rect class="d" x="296.4" y="284.9" width="49.5" height="7.8"/>
<rect class="c" x="0" y="292.6" width="24.8" height="7.8"/><rect class="d" x="321.1" y="292.6" width="24.8" height="7.8"/>
<rect class="a" x="0" y="300.3" width="24.8" height="7.8"/><rect class="b" x="49.4" y="300.3" width="24.8" height="7.8"/><rect class="e" x="98.8" y="300.3" width="24.8" height="7.8"/><rect class="e" x="148.2" y="300.3" width="24.8" height="7.8"/><rect class="f" x="172.9" y="300.3" width="24.8" height="7.8"/><rect class="g" x="222.3" y="300.3" width="24.8" height="7.8"/><rect class="f" x="247" y="300.3" width="49.5" height="7.8"/>
<rect class="a" x="0" y="308" width="24.8" height="7.8"/><rect class="c" x="49.4" y="308" width="24.8" height="7.8"/><rect class="e" x="74.1" y="308" width="24.8" height="7.8"/><rect class="e" x="123.5" y="308" width="24.8" height="7.8"/><rect class="g" x="172.9" y="308" width="24.8" height="7.8"/><rect class="d" x="197.6" y="308" width="24.8" height="7.8"/><rect class="g" x="247" y="308" width="24.8" height="7.8"/><rect class="d" x="271.7" y="308" width="24.8" height="7.8"/><rect class="c" x="296.4" y="308" width="24.8" height="7.8"/><rect class="d" x="321.1" y="308" width="24.8" height="7.8"/>
<rect class="b" x="0" y="315.7" width="24.8" height="7.8"/><rect class="f" x="24.7" y="315.7" width="24.8" height="7.8"/><rect class="e" x="98.8" y="315.7" width="24.8" height="7.8"/><rect class="f" x="148.2" y="315.7" width="24.8" height="7.8"/><rect class="g" x="172.9" y="315.7" width="24.8" height="7.8"/><rect class="d" x="197.6" y="315.7" width="24.8" height="7.8"/><rect class="f" x="247" y="315.7" width="24.8" height="7.8"/><rect class="d" x="296.4" y="315.7" width="49.5" height="7.8"/>
<rect class="b" x="0" y="323.4" width="24.8" height="7.8"/><rect class="f" x="24.7" y="323.4" width="24.8" height="7.8"/><rect class="f" x="172.9" y="323.4" width="24.8" height="7.8"/><rect class="c" x="197.6" y="323.4" width="24.8" height="7.8"/><rect class="d" x="247" y="323.4" width="24.8" height="7.8"/><rect class="c" x="271.7" y="323.4" width="74.2" height="7.8"/>
<rect class="b" x="0" y="331.1" width="24.8" height="7.8"/><rect class="f" x="24.7" y="331.1" width="24.8" height="7.8"/><rect class="e" x="148.2" y="331.1" width="24.8" height="7.8"/><rect class="f" x="172.9" y="331.1" width="24.8" height="7.8"/><rect class="c" x="197.6" y="331.1" width="24.8" height="7.8"/><rect class="d" x="247" y="331.1" width="24.8" height="7.8"/><rect class="b" x="271.7" y="331.1" width="24.8" height="7.8"/><rect class="c" x="296.4" y="331.1" width="49.5" height="7.8"/>
<rect class="b" x="0" y="338.8" width="24.8" height="7.8"/><rect class="e" x="24.7" y="338.8" width="24.8" height="7.8"/><rect class="e" x="148.2" y="338.8" width="24.8" height="7.8"/><rect class="f" x="172.9" y="338.8" width="24.8" height="7.8"/><rect class="c" x="197.6" y="338.8" width="24.8" height="7.8"/><rect class="d" x="247" y="338.8" width="24.8" height="7.8"/><rect class="c" x="271.7" y="338.8" width="49.5" height="7.8"/><rect class="d" x="321.1" y="338.8" width="24.8" height="7.8"/>
<rect class="b" x="0" y="346.5" width="24.8" height="7.8"/><rect class="e" x="24.7" y="346.5" width="24.8" height="7.8"/><rect class="f" x="172.9" y="346.5" width="24.8" height="7.8"/><rect class="c" x="197.6" y="346.5" width="24.8" height="7.8"/><rect class="c" x="271.7" y="346.5" width="24.8" height="7.8"/><rect class="d" x="296.4" y="346.5" width="49.5" height="7.8"/>
<rect class="b" x="0" y="354.2" width="24.8" height="7.8"/><rect class="e" x="98.8" y="354.2" width="24.8" height="7.8"/><rect class="e" x="148.2" y="354.2" width="24.8" height="7.8"/><rect class="g" x="172.9" y="354.2" width="24.8" height="7.8"/><rect class="c" x="197.6" y="354.2" width="24.8" height="7.8"/><rect class="d" x="247" y="354.2" width="24.8" height="7.8"/><rect class="b" x="271.7" y="354.2" width="24.8" height="7.8"/><rect class="d" x="296.4" y="354.2" width="49.5" height="7.8"/>
<rect class="b" x="0" y="361.9" width="24.8" height="7.8"/><rect class="e" x="24.7" y="361.9" width="24.8" height="7.8"/><rect class="d" x="49.4" y="361.9" width="24.8" height="7.8"/><rect class="d" x="148.2" y="361.9" width="24.8" height="7.8"/><rect class="g" x="172.9" y="361.9" width="24.8" height="7.8"/><rect class="c" x="197.6" y="361.9" width="24.8" height="7.8"/><rect class="e" x="247" y="361.9" width="24.8" height="7.8"/><rect class="c" x="271.7" y="361.9" width="49.5" height="7.8"/><rect class="d" x="321.1" y="361.9" width="24.8" height="7.8"/>
</g>

<g id="row-labels">
<text class="rl">
<tspan x="1173" y="204.05" class="rr">Colorectal AC (SW480*)</tspan>
<tspan x="1173" y="211.75" class="rr">Lung carc. (A549*)</tspan>
<tspan x="1173" y="219.45" class="rr">Tumor breast</tspan>
<tspan x="1173" y="227.15">Placenta</tspan>
<tspan x="1173" y="234.85" class="rr">Cervical AC (HeLa*)</tspan>
<tspan x="1173" y="242.55" class="rr">Cervical AC (HeLaS3*)</tspan>
<tspan x="1173" y="250.25" class="rr" textLength="105" lengthAdjust="spacingAndGlyphs">Colorectal carc. (HCT116*)</tspan>
<tspan x="1173" y="257.95">Ovary</tspan>
<tspan x="1173" y="265.65">Mammary gland</tspan>
<tspan x="1173" y="273.35" class="rr">Osteosarcoma (MG-63*)</tspan>
<tspan x="1173" y="281.05" class="rr">Tumor colon</tspan>
<tspan x="1173" y="288.75" class="rr">Burkitt's lymphoma (Raji*)</tspan>
<tspan x="1173" y="296.45" class="rr">Melanoma (G361*)</tspan>
<tspan x="1173" y="304.15">Adipose (SWAT)</tspan>
<tspan x="1173" y="311.85">Lung</tspan>
<tspan x="1173" y="319.55">Fetal lung</tspan>
<tspan x="1173" y="327.25">Ileum</tspan>
<tspan x="1173" y="334.95">Jejunum</tspan>
<tspan x="1173" y="342.65">Fetal vertebra</tspan>
<tspan x="1173" y="350.35">Skin</tspan>
<tspan x="1173" y="358.05">Fetal liver</tspan>
<tspan x="1173" y="365.75">Bone marrow</tspan>
<tspan x="1173" y="373.45">Stomach</tspan>
<tspan x="1173" y="381.15">Adrenal gland</tspan>
<tspan x="1173" y="388.85">Liver</tspan>
<tspan x="1173" y="396.55">Peripheral leukocytes</tspan>
<tspan x="1173" y="404.25" class="rr">Tumor lung</tspan>
<tspan x="1173" y="411.95">Thyroid</tspan>
<tspan x="1173" y="419.65">Fetal kidney</tspan>
<tspan x="1173" y="427.35">Pancreas</tspan>
<tspan x="1173" y="435.05">Kidney</tspan>
<tspan x="1173" y="442.75">Prostate</tspan>
<tspan x="1173" y="450.45">Pituitary</tspan>
<tspan x="1173" y="458.15">Colon</tspan>
<tspan x="1173" y="465.85">Retina</tspan>
<tspan x="1173" y="473.55">Heart</tspan>
<tspan x="1173" y="481.25">Skeletal muscle</tspan>
<tspan x="1173" y="488.95">Spinal cord</tspan>
<tspan x="1173" y="496.65">Medulla oblongata (brain)</tspan>
<tspan x="1173" y="504.35">Testis</tspan>
<tspan x="1173" y="512.05">Cerebellum (brain)</tspan>
<tspan x="1173" y="519.75">Fetal brain</tspan>
<tspan x="1173" y="527.45">Putamen (brain)</tspan>
<tspan x="1173" y="535.15">Frontal lobe (brain)</tspan>
<tspan x="1173" y="542.85">Hippocampus (brain)</tspan>
<tspan x="1173" y="550.55">Hypothalamus (brain)</tspan>
<tspan x="1173" y="558.25">Thalamus (brain)</tspan>
<tspan x="1173" y="565.95">Pons (brain)</tspan>
</text>
</g>

<g id="col-labels">
<text class="cl" transform="translate(840.2,578) rotate(-90)">ETS1</text>
<text class="cl" transform="translate(864.9,578) rotate(-90)">MAPK3</text>
<text class="cl" transform="translate(889.6,578) rotate(-90)">CUX1</text>
<text class="cl" transform="translate(914.3,578) rotate(-90)">HNRNPU</text>
<text class="cl" transform="translate(939,578) rotate(-90)">TIAL1</text>
<text class="cl" transform="translate(963.7,578) rotate(-90)">TDP-43</text>
<text class="cl" transform="translate(988.4,578) rotate(-90)">RBM22</text>
<text class="cl" transform="translate(1013.1,578) rotate(-90)">RBFOX2</text>
<text class="cl" transform="translate(1037.8,578) rotate(-90)">HNRNPH1</text>
<text class="cl" transform="translate(1062.5,578) rotate(-90)">SNRPC</text>
<text class="cl" transform="translate(1087.2,578) rotate(-90)">ELK1</text>
<text class="cl" transform="translate(1111.9,578) rotate(-90)">PTBP1</text>
<text class="cl" transform="translate(1136.6,578) rotate(-90)">HNRNPF</text>
<text class="cl" transform="translate(1161.3,578) rotate(-90)">MYC</text>
<rect x="1071" y="570" width="100.5" height="52" fill="none" stroke="#e0302a" stroke-width="1.2"/>
</g>

<!-- ================= PANEL D ================= -->
<g id="barchart">
<path d="M694,681 V962.7 M689,962.7 H694 M689,922.5 H694 M689,882.3 H694 M689,842.1 H694 M689,801.9 H694 M689,761.7 H694 M689,721.5 H694 M689,681.3 H694" stroke="#333" stroke-width="0.9" fill="none"/>
<text class="ax" transform="translate(686,962.7) rotate(-90)">0</text>
<text class="ax" transform="translate(686,922.5) rotate(-90)">0.01</text>
<text class="ax" transform="translate(686,882.3) rotate(-90)">0.02</text>
<text class="ax" transform="translate(686,842.1) rotate(-90)">0.03</text>
<text class="ax" transform="translate(686,801.9) rotate(-90)">0.04</text>
<text class="ax" transform="translate(686,761.7) rotate(-90)">0.05</text>
<text class="ax" transform="translate(686,721.5) rotate(-90)">0.06</text>
<text class="ax" transform="translate(686,681.3) rotate(-90)">0.07</text>
<text class="ax" transform="translate(661,813) rotate(-90)" style="font-size:10px">Mean gene expression difference between</text>
<text class="ax" transform="translate(674,813) rotate(-90)" style="font-size:10px">colon tumor and normal tissue</text>
<g id="bar-elk1"><rect x="702.3" y="681" width="52" height="281.7" fill="#c8202a" stroke="#666" stroke-width="0.8"/>
<path d="M728.3,656 V706 M715.3,656 H741.3 M715.3,706 H741.3" stroke="#222" stroke-width="1.1" fill="none"/>
<text class="ax" x="727.5" y="654" style="font-size:17px">*</text>
<text class="ax" x="728.3" y="979" style="font-size:10.3px">ELK1-bound</text><text class="ax" x="728.3" y="991" style="font-size:10.3px">genes</text></g>
<g id="bar-myc"><rect x="765" y="714.3" width="52.3" height="248.4" fill="#c8202a" stroke="#666" stroke-width="0.8"/>
<path d="M791,691 V737.7 M778,691 H804 M778,737.7 H804" stroke="#222" stroke-width="1.1" fill="none"/>
<text class="ax" x="790.5" y="689" style="font-size:17px">*</text>
<text class="ax" x="791" y="979" style="font-size:10.3px">MYC-bound</text><text class="ax" x="791" y="991" style="font-size:10.3px">genes</text></g>
<g id="bar-all"><rect x="827.7" y="881" width="53" height="81.7" fill="#6f93cb" stroke="#666" stroke-width="0.8"/>
<path d="M854.3,871 V891 M841.3,871 H867.3 M841.3,891 H867.3" stroke="#222" stroke-width="1.1" fill="none"/>
<text class="ax" x="854.3" y="979" style="font-size:10.3px">All genes</text></g>
</g>
</svg>
